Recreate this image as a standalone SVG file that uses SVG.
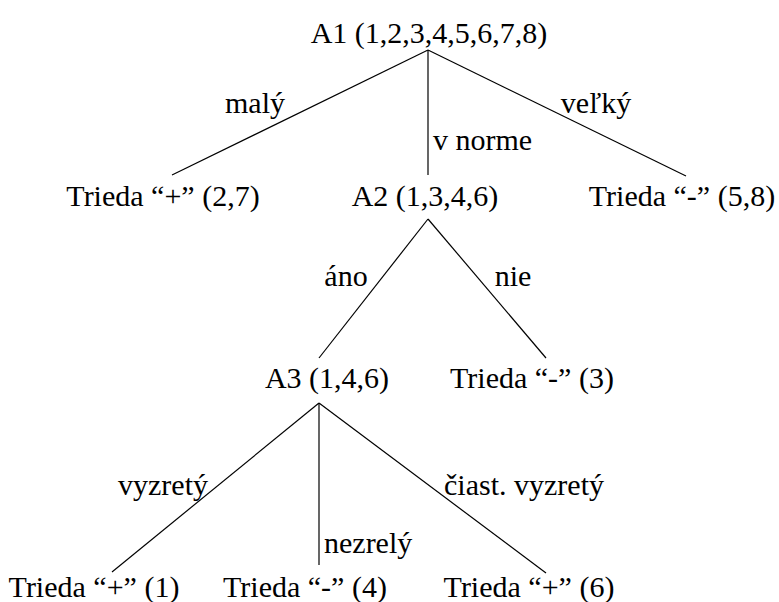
<svg xmlns="http://www.w3.org/2000/svg" width="779" height="602" viewBox="0 0 779 602">
<style>
text{font-family:'Liberation Serif','Times New Roman',serif;font-size:30px;fill:#000;text-anchor:middle}
.s{text-anchor:start}
.e{stroke:#000;stroke-width:1.2;fill:none}
</style>
<rect width="779" height="602" fill="#fff"/>
<g id="connectors">
<line class="e" x1="428" y1="50" x2="172" y2="175"/>
<line class="e" x1="428" y1="50" x2="428" y2="175"/>
<line class="e" x1="428" y1="50" x2="686" y2="176"/>
<line class="e" x1="428" y1="219" x2="319" y2="358"/>
<line class="e" x1="428" y1="219" x2="546" y2="358"/>
<line class="e" x1="319" y1="403" x2="112" y2="572"/>
<line class="e" x1="319" y1="403" x2="319" y2="565"/>
<line class="e" x1="319" y1="403" x2="546" y2="573"/>
</g>
<g id="edge-labels">
<text x="255" y="113">malý</text>
<text class="s" x="433" y="150">v norme</text>
<text x="596" y="113">veľký</text>
<text x="346" y="286">áno</text>
<text x="513" y="286">nie</text>
<text x="163" y="495">vyzretý</text>
<text class="s" x="324" y="553">nezrelý</text>
<text x="524" y="495">čiast. vyzretý</text>
</g>
<g id="A1"><text x="429" y="43">A1 (1,2,3,4,5,6,7,8)</text></g>
<g id="L1"><text x="163" y="206">Trieda “+” (2,7)</text></g>
<g id="A2"><text x="425" y="206">A2 (1,3,4,6)</text></g>
<g id="L2"><text x="682" y="206">Trieda “-” (5,8)</text></g>
<g id="A3"><text x="327" y="388">A3 (1,4,6)</text></g>
<g id="L3"><text x="532" y="388">Trieda “-” (3)</text></g>
<g id="L4"><text x="94" y="597">Trieda “+” (1)</text></g>
<g id="L5"><text x="305" y="597">Trieda “-” (4)</text></g>
<g id="L6"><text x="529" y="597">Trieda “+” (6)</text></g>
</svg>
